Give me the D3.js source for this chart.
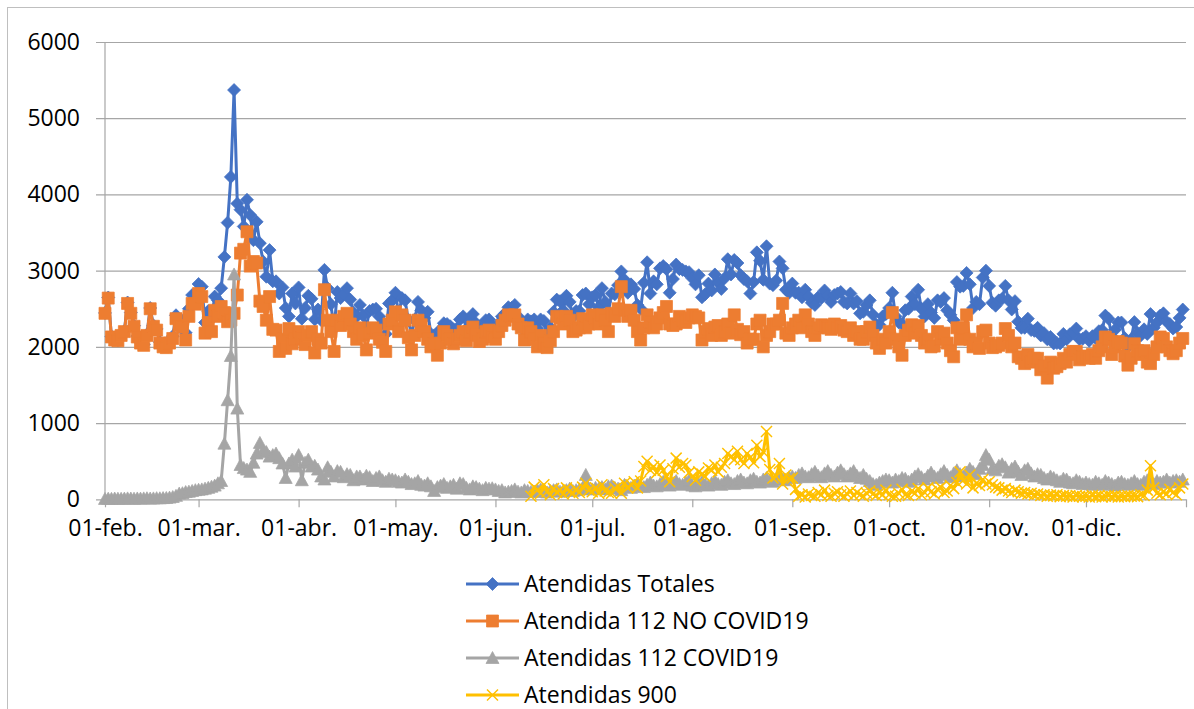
<!DOCTYPE html>
<html>
<head>
<meta charset="utf-8">
<script src="https://cdn.jsdelivr.net/npm/d3@7"></script>
<style>
    body { margin: 0; background: #fff; }
    text { font-family: "Open Sans", sans-serif; fill: #000; }
</style>
</head>
<body>
<div id="chart"></div>
<script>
// daily values, 01-feb-2020 .. 31-dic-2020
const startDate = "2020-02-01";
const start900 = "2020-06-12";
const endDate = "2021-01-01";

const yTicks = [0, 1000, 2000, 3000, 4000, 5000, 6000];
const monthLabels = ["01-feb.", "01-mar.", "01-abr.", "01-may.", "01-jun.", "01-jul.",
    "01-ago.", "01-sep.", "01-oct.", "01-nov.", "01-dic."];
const seriesNames = ["Atendidas Totales", "Atendida 112 NO COVID19", "Atendidas 112 COVID19", "Atendidas 900"];

const totales = [
    2445,2648,2136,2100,2088, 2157,2209,2582,2450,2278, 2141,2059,2032,2164,2510, 2282,2235,2063,2016,2008, 2072,2140,2415,2355,2340, 2185,2500,2680,2680,
    2825,2790,2320,2470,2365, 2660,2610,2770,3180,3630, 4230,5370,3880,3800,3580, 3930,3730,3400,3640,3360, 3120,2920,3270,2860,2860, 2700,2780,2510,2400,2700, 2570,
    2780,2370,2510,2670,2630, 2360,2490,2350,3010,2770, 2560,2240,2720,2640,2690, 2770,2620,2450,2400,2550, 2410,2270,2470,2490,2500, 2400,2310,2170,2570,2610,
    2710,2430,2640,2610,2350, 2160,2360,2590,2480,2380, 2460,2170,2150,2050,2230, 2310,2300,2270,2230,2240, 2360,2400,2230,2330,2430, 2310,2210,2220,2350,2360, 2275,
    2230,2310,2400,2440,2520, 2510,2550,2400,2340,2210, 2360,2335,2360,2240,2360, 2340,2180,2250,2460,2620, 2600,2480,2670,2590,2390, 2470,2470,2680,2700,2560,
    2650,2680,2520,2770,2590, 2460,2700,2690,2810,2990, 2880,2710,2820,2760,2550, 2500,2840,3110,2700,2860, 2820,3030,3060,3020,2710, 2890,3080,3020,3010,2990, 2980,
    2900,2820,2940,2650,2690, 2830,2740,2950,2840,2760, 2900,3150,2950,3140,3100, 2940,2890,2860,2700,2850, 3240,3130,2880,3320,2830, 2810,2870,3120,3030,2750, 2710,
    2830,2710,2710,2650,2750, 2660,2580,2550,2650,2640, 2740,2670,2590,2680,2700, 2720,2590,2570,2700,2570, 2600,2440,2460,2550,2610, 2420,2290,2290,2400,2430,
    2510,2710,2400,2320,2300, 2480,2500,2660,2560,2750, 2500,2400,2560,2450,2380, 2610,2590,2640,2480,2420, 2350,2850,2790,2800,2970, 2820,2510,2590,2560,2910, 3000,
    2800,2580,2540,2610,2630, 2800,2610,2490,2600,2330, 2250,2250,2370,2220,2210, 2250,2150,2180,2100,2130, 2045,2050,2045,2170,2100, 2165,2180,2240,2100,2105,
    2140,2080,2140,2115,2205, 2220,2410,2370,2135,2225, 2320,2320,2115,2000,2100, 2325,2185,2150,2230,2170, 2430,2250,2320,2410,2440, 2330,2300,2240,2260,2380, 2490
];

const noCovid = [
    2440,2640,2130,2090,2080, 2150,2200,2570,2440,2270, 2130,2050,2020,2150,2500, 2270,2220,2050,2000,1990, 2050,2110,2370,2280,2260, 2090,2400,2570,2560,
    2700,2660,2180,2320,2200, 2480,2400,2530,2450,2330, 2350,2440,2680,3230,3280, 3510,3060,3120,3100,2600, 2530,2350,2660,2230,2220, 1940,2100,1980,2240,2040, 2100,
    2200,2120,2030,2150,2200, 1920,2100,2050,2750,2350, 2200,1940,2350,2280,2400, 2440,2300,2200,2100,2250, 2150,1960,2180,2250,2220, 2100,2060,1940,2300,2350,
    2460,2200,2420,2350,2120, 1960,2150,2350,2290,2200, 2100,2000,2040,1890,2050, 2200,2150,2100,2040,2100, 2150,2200,2080,2200,2260, 2150,2070,2100,2200,2220, 2130,
    2100,2200,2280,2350,2420, 2400,2420,2300,2250,2090, 2250,2200,2100,2000,2150, 2050,1990,2080,2200,2400, 2380,2300,2400,2350,2200, 2220,2250,2370,2250,2300,
    2420,2380,2300,2420,2350, 2200,2440,2400,2500,2790, 2480,2400,2480,2350,2200, 2090,2250,2420,2330,2250, 2300,2380,2450,2530,2300, 2280,2300,2400,2350,2320, 2380,
    2420,2400,2380,2090,2200, 2240,2150,2260,2280,2150, 2200,2300,2180,2420,2230, 2160,2200,2050,2100,2100, 2300,2350,2000,2150,2200, 2300,2300,2350,2570,2180, 2150,
    2250,2300,2350,2250,2420, 2300,2200,2150,2250,2290, 2280,2250,2230,2300,2250, 2280,2220,2200,2250,2150, 2200,2100,2100,2200,2260, 2150,2050,1980,2100,2050,
    2200,2450,2100,2000,1890, 2150,2220,2290,2180,2280, 2150,2050,2100,2000,2010, 2200,2100,2180,2050,1950, 1870,2250,2100,2250,2420, 2100,2000,2050,1980,2200, 2220,
    2050,1990,2000,2020,2050, 2240,2150,2000,2050,1870, 1850,1780,1900,1800,1850, 1850,1700,1750,1590,1800, 1720,1740,1780,1850,1800, 1900,1940,1940,1830,1870,
    1880,1850,1900,1850,1950, 2000,2130,2100,1900,2000, 2070,2050,1880,1760,1850, 2040,1950,1900,1950,1800, 1780,1900,2000,2130,2110, 2000,1950,1910,1950,2050, 2110
];

const covid = [
    5,8,6,10,8, 7,9,12,10,8, 11,9,12,14,10, 12,15,13,16,18, 22,30,45,75,80, 95,100,110,120,
    125,130,140,150,165, 180,210,240,730,1300, 1880,2950,1190,450,410, 390,360,480,600,740, 640,620,560,580,600, 540,470,280,470,520, 430,
    580,250,480,520,430, 440,390,300,260,420, 360,300,370,360,290, 330,320,250,300,300, 260,310,290,240,280, 300,250,230,270,260,
    250,230,220,260,230, 200,210,240,190,180, 210,170,110,160,180, 200,150,170,190,140, 210,200,150,130,170, 160,140,120,150,140, 145,
    130,110,120,90,100, 110,130,100,90,120, 110,95,100,120,130, 100,90,110,120,130, 100,110,120,140,110, 120,130,150,320,140,
    130,150,140,160,130, 170,180,150,140,120, 190,160,150,180,200, 170,160,190,220,180, 170,200,230,190,180, 210,240,200,190,220, 250,
    180,170,200,230,190, 180,210,240,200,190, 230,250,210,200,240, 260,220,210,250,270, 230,220,260,280,240, 230,270,300,260,250, 290,
    300,280,320,340,300, 290,330,360,310,290, 340,370,320,300,350, 380,330,300,340,370, 310,280,320,270,240, 200,190,220,240,260,
    250,220,260,240,280, 270,230,260,300,330, 290,260,310,350,300, 280,330,370,320,290, 340,380,330,300,350, 400,360,330,400,450, 580,
    520,400,380,440,460, 420,350,400,430,360, 320,380,400,340,300, 330,320,280,260,300, 280,250,230,270,260, 220,210,250,230,200,
    220,200,190,230,210, 190,240,220,200,180, 220,230,200,190,210, 240,200,190,230,250, 210,200,240,220,230, 260,220,240,250,230, 260
];

// 900 line starts on 12-jun
const at900 = [
    40,160,120,80,190, 100,60,140,90,120, 70,150,100,80,130, 90,160,210,120,
    100,150,80,190,110, 90,80,140,170,80, 210,150,190,230,150, 240,430,500,380,430, 350,450,380,300,230, 400,540,420,470,450, 350,
    300,250,360,330,300, 410,380,450,360,420, 470,600,560,520,630, 520,470,600,550,480, 710,560,620,890,390, 280,300,470,200,320, 270,
    280,130,40,60,30, 70,50,40,90,60, 120,50,40,80,100, 60,40,70,110,50, 90,60,40,80,110, 70,50,90,60,120,
    60,40,40,80,130, 60,50,110,80,140, 60,90,150,100,70, 130,160,90,110,180, 140,220,360,250,200, 320,150,210,180,260, 200,
    230,190,160,150,120, 140,110,90,120,100, 80,90,70,80,60, 70,50,60,40,55, 45,60,35,50,40, 45,30,50,40,35,
    40,30,50,35,45, 30,40,50,35,45, 30,40,35,50,40, 45,35,60,50,120, 440,150,80,60,100, 70,130,90,60,150, 200
];

const colors = ["#4472C4", "#ED7D31", "#A5A5A5", "#FFC000"];

const width = 1194, height = 709;
const plot = { left: 105, right: 1186, top: 42, bottom: 499.3, gridStart: 96 };
const fontSize = "23px";

const parse = d3.timeParse("%Y-%m-%d");

function toPoints(values, from) {
    const d0 = parse(from);
    return values.map(function(v, i) { return { date: d3.timeDay.offset(d0, i), v: v }; });
}

const series = [
    { name: seriesNames[0], color: colors[0], marker: "diamond", points: toPoints(totales, startDate) },
    { name: seriesNames[1], color: colors[1], marker: "square", points: toPoints(noCovid, startDate) },
    { name: seriesNames[2], color: colors[2], marker: "triangle", points: toPoints(covid, startDate) },
    { name: seriesNames[3], color: colors[3], marker: "cross", points: toPoints(at900, start900) }
];

const x = d3.scaleTime()
    .domain([parse(startDate), parse(endDate)])
    .range([plot.left, plot.right]);

const y = d3.scaleLinear()
    .domain([0, 6000])
    .range([plot.bottom, plot.top]);

const svg = d3.select("#chart").append("svg")
    .attr("width", width)
    .attr("height", height);

svg.append("rect")
    .attr("width", width).attr("height", height)
    .attr("fill", "#fff");

// chart area border (cropped on the right and bottom)
svg.append("rect")
    .attr("x", 7.5).attr("y", 7.5)
    .attr("width", width + 20).attr("height", height + 20)
    .attr("fill", "none")
    .attr("stroke", "#bfbfbf");

// horizontal gridlines + y labels
const yAxis = svg.append("g")
    .attr("transform", "translate(" + plot.gridStart + ",0)")
    .call(d3.axisLeft(y)
        .tickValues(yTicks)
        .tickSize(-(plot.right - plot.gridStart))
        .tickPadding(16)
        .tickFormat(d3.format("d")));
yAxis.select(".domain").remove();
yAxis.selectAll("line").attr("stroke", "#a6a6a6").attr("stroke-width", 1.2);
yAxis.selectAll("text")
    .style("font-size", fontSize)
    .attr("fill", "#000");

// vertical axis line
svg.append("line")
    .attr("x1", plot.left).attr("x2", plot.left)
    .attr("y1", y(6000)).attr("y2", y(0))
    .attr("stroke", "#a6a6a6").attr("stroke-width", 1.2);

// month ticks on the date axis
const monthTicks = d3.timeMonth.range(parse(startDate), parse(endDate)).concat([parse(endDate)]);
const xAxis = svg.append("g")
    .attr("transform", "translate(0," + y(0) + ")")
    .call(d3.axisBottom(x)
        .tickValues(monthTicks)
        .tickSize(8)
        .tickPadding(12)
        .tickFormat(function(d, i) { return monthLabels[i] || ""; }));
xAxis.select(".domain").remove();
xAxis.selectAll("line").attr("stroke", "#a6a6a6").attr("stroke-width", 1.2);
xAxis.selectAll("text")
    .style("font-size", fontSize)
    .attr("fill", "#000");

// marker shapes
function markerPath(type) {
    if (type === "diamond") return "M0,-6.5L6.5,0L0,6.5L-6.5,0Z";
    if (type === "square") return "M-6,-6H6V6H-6Z";
    if (type === "triangle") return "M0,-6.5L6.5,5.5H-6.5Z";
    return "M-5.5,-5.5L5.5,5.5M-5.5,5.5L5.5,-5.5";
}

const line = d3.line()
    .defined(function(d) { return d.v != null; })
    .x(function(d) { return x(d.date); })
    .y(function(d) { return y(d.v); });

series.forEach(function(s) {
    const g = svg.append("g").attr("class", "series");

    g.append("path")
        .datum(s.points)
        .attr("d", line)
        .attr("fill", "none")
        .attr("stroke", s.color)
        .attr("stroke-width", 3)
        .attr("stroke-linejoin", "round");

    g.selectAll(".pt")
        .data(s.points)
        .enter().append("path")
            .attr("class", "pt")
            .attr("transform", function(d) { return "translate(" + x(d.date) + "," + y(d.v) + ")"; })
            .attr("d", markerPath(s.marker))
            .attr("fill", s.marker === "cross" ? "none" : s.color)
            .attr("stroke", s.color)
            .attr("stroke-width", s.marker === "cross" ? 1.5 : 0.75);
});

// legend
const legend = svg.append("g")
    .attr("transform", "translate(466,584)");

const item = legend.selectAll(".item")
    .data(series)
    .enter().append("g")
        .attr("class", "item")
        .attr("transform", function(d, i) { return "translate(0," + (i * 37) + ")"; });

item.append("line")
    .attr("x1", 0).attr("x2", 53)
    .attr("stroke", function(d) { return d.color; })
    .attr("stroke-width", 3);

item.append("path")
    .attr("transform", "translate(26.5,0)")
    .attr("d", function(d) { return markerPath(d.marker); })
    .attr("fill", function(d) { return d.marker === "cross" ? "none" : d.color; })
    .attr("stroke", function(d) { return d.color; })
    .attr("stroke-width", function(d) { return d.marker === "cross" ? 1.5 : 0.75; });

item.append("text")
    .attr("x", 58)
    .attr("y", 8)
    .style("font-size", fontSize)
    .text(function(d) { return d.name; });
</script>
</body>
</html>
